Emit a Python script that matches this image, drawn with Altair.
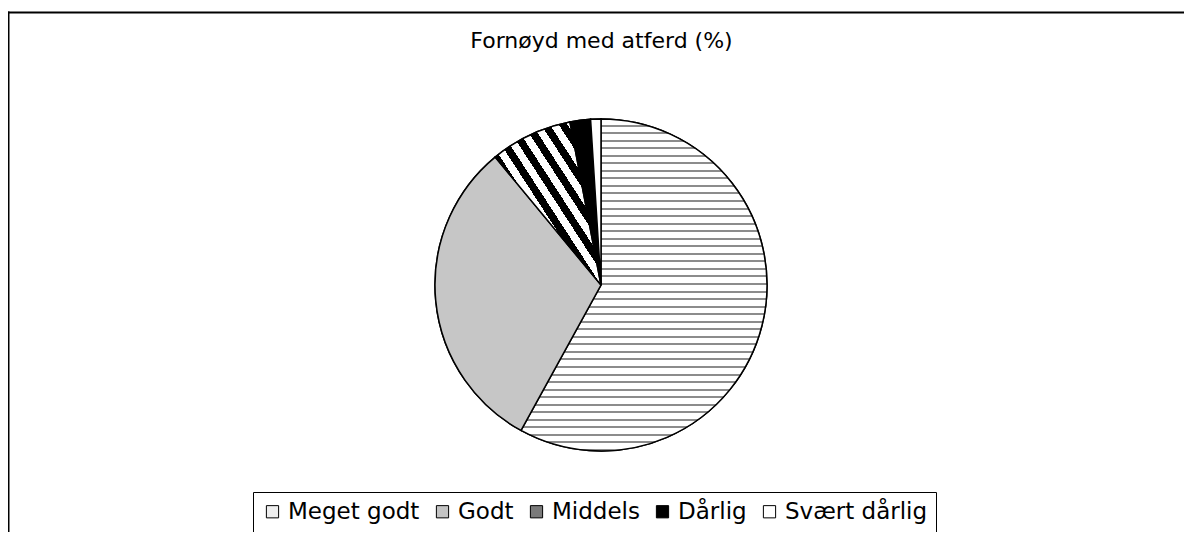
import altair as alt
import pandas as pd

categories = ["Meget godt", "Godt", "Middels", "Dårlig", "Svært dårlig"]
values = [58, 31, 8, 2, 1]
order = [1, 2, 3, 4, 5]
legend_colors = ["#eeeeee", "#c4c4c4", "#7a7a7a", "#000000", "#ffffff"]

df = pd.DataFrame({"kategori": categories, "prosent": values, "rekkefolge": order})

FONT = "DejaVu Sans"
W, H = 1176, 524


def stripes(n, c1, c2, frac, x1, y1, x2, y2):
    stops = []
    for i in range(n):
        a = i / n
        b = (i + frac) / n
        c = (i + 1) / n
        stops += [
            {"offset": a, "color": c1},
            {"offset": b, "color": c1},
            {"offset": b, "color": c2},
            {"offset": c, "color": c2},
        ]
    return {"gradient": "linear", "x1": x1, "y1": y1, "x2": x2, "y2": y2, "stops": stops}


dash_fill = stripes(44, "#ffffff", "#8c8c8c", 0.74, 0, 0, 0, 1)
diag_fill = stripes(12, "#ffffff", "#000000", 0.5, 0, 1, 1, 0)

fill_def = {
    "condition": [
        {"test": "datum.kategori === 'Meget godt'", "value": dash_fill},
        {"test": "datum.kategori === 'Godt'", "value": "#c6c6c6"},
        {"test": "datum.kategori === 'Middels'", "value": diag_fill},
        {"test": "datum.kategori === 'Dårlig'", "value": "#000000"},
    ],
    "value": "#ffffff",
}

base = alt.Chart(df)

pie_legend = base.mark_arc(outerRadius=166, stroke="black", strokeWidth=1.5).encode(
    theta=alt.Theta("prosent:Q", stack=True),
    order=alt.Order("rekkefolge:Q", sort="ascending"),
    color=alt.Color(
        "kategori:N",
        scale=alt.Scale(domain=categories, range=legend_colors),
        legend=alt.Legend(
            title=None,
            orient="none",
            legendX=245,
            legendY=484,
            direction="horizontal",
            symbolType="square",
            symbolSize=150,
            symbolStrokeColor="black",
            symbolStrokeWidth=1,
            labelFont=FONT,
            labelFontSize=23,
            labelColor="black",
            labelOffset=4,
            columnPadding=11,
            padding=8,
            strokeColor="black",
            fillColor="white",
        ),
    ),
    x=alt.value(593),
    y=alt.value(277),
)

pie_pattern = base.mark_arc(outerRadius=166, stroke="black", strokeWidth=1.5).encode(
    theta=alt.Theta("prosent:Q", stack=True),
    order=alt.Order("rekkefolge:Q", sort="ascending"),
    fill=alt.FillValue(**fill_def),
    x=alt.value(593),
    y=alt.value(277),
)

title = alt.Chart(pd.DataFrame({"t": ["Fornøyd med atferd (%)"]})).mark_text(
    font=FONT, fontSize=22, color="black", align="center", baseline="alphabetic"
).encode(text="t:N", x=alt.value(593.5), y=alt.value(40))

frame_top = alt.Chart(pd.DataFrame({"a": [0]})).mark_rule(color="black", strokeWidth=2).encode(
    x=alt.value(0), x2=alt.value(W), y=alt.value(4.5)
)
frame_left = alt.Chart(pd.DataFrame({"a": [0]})).mark_rule(color="black", strokeWidth=2).encode(
    x=alt.value(0.5), y=alt.value(3.5), y2=alt.value(H)
)

chart = (
    alt.layer(pie_legend, pie_pattern, title, frame_top, frame_left)
    .properties(width=W, height=H, autosize="none", padding=0, background="white")
    .configure_view(strokeWidth=0)
)

chart.save("out.html", embed_options={"renderer": "svg", "actions": False})
